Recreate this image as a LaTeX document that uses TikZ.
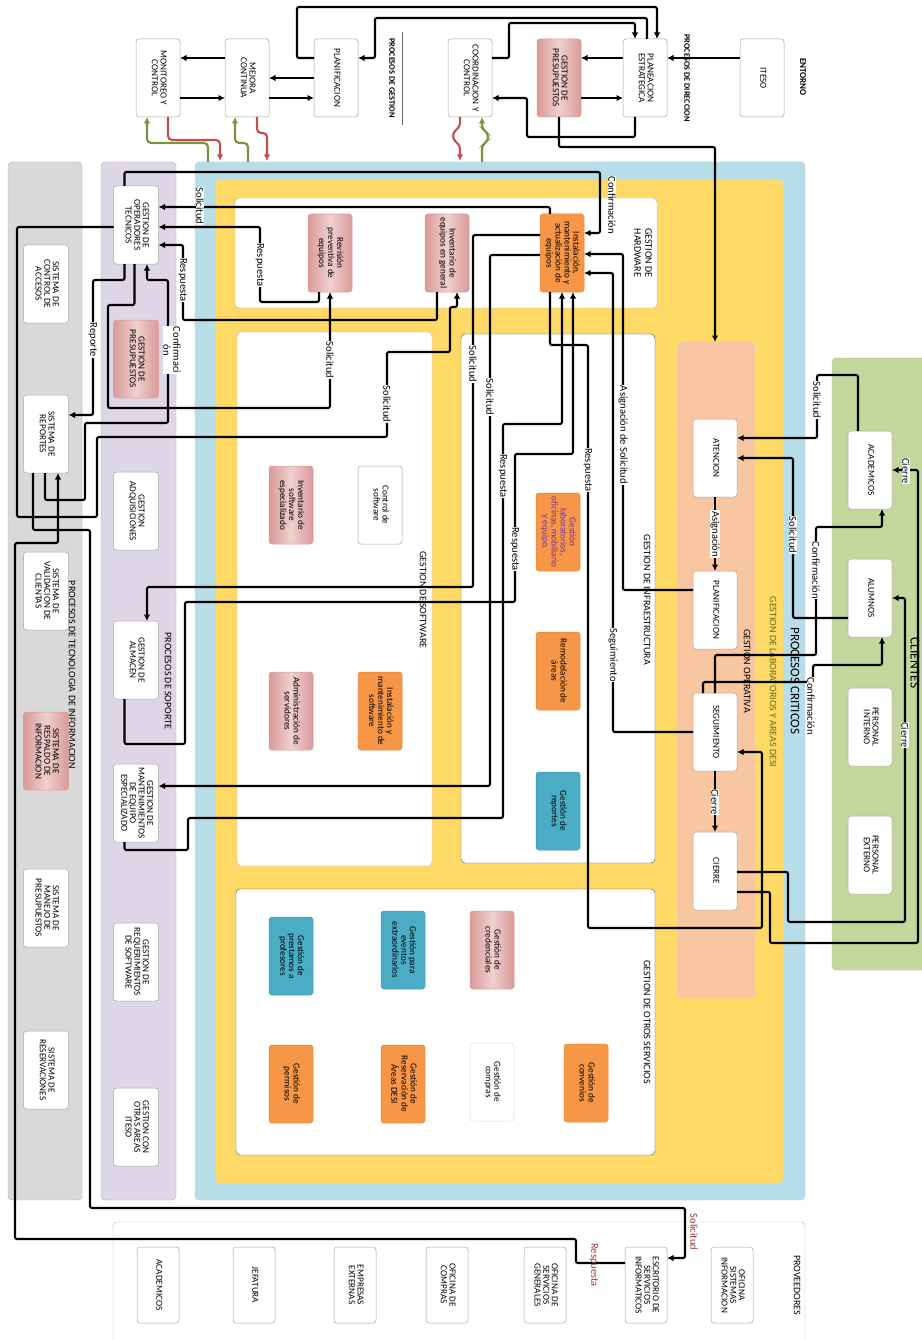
\documentclass[tikz,border=0pt]{standalone}
\usepackage{fontspec}
\setmainfont{Carlito}
\usepackage{graphicx}
\usetikzlibrary{arrows.meta, calc}
\definecolor{dsGray}{HTML}{D9D9D9}
\definecolor{dsLilac}{HTML}{DCD6E6}
\definecolor{dsBlue}{HTML}{B7DDE8}
\definecolor{dsYellow}{HTML}{FFD966}
\definecolor{dsSalmon}{HTML}{F8C6A0}
\definecolor{dsGreen}{HTML}{C3D69B}
\definecolor{dsOrange}{HTML}{F79646}
\definecolor{dsTeal}{HTML}{4BACC6}
\definecolor{dsPink}{HTML}{D99A98}
\definecolor{dsPinkLight}{HTML}{EFD0CF}
\definecolor{dsRed}{HTML}{C0504D}
\definecolor{dsLeaf}{HTML}{77933C}
\definecolor{dsOlive}{HTML}{6B6B1A}
\definecolor{dsWine}{HTML}{943634}
\definecolor{dsViolet}{HTML}{7030A0}
\newcommand{\rt}[1]{\rotatebox{-90}{\begin{tabular}{@{}c@{}}#1\end{tabular}}}
\tikzset{
  box/.style       = {draw=black!35, line width=0.5pt, fill=white, rounded corners=3pt,
                      minimum width=44pt, minimum height=78pt, inner sep=1pt, outer sep=0pt,
                      font=\fontsize{9.2}{8.6}\selectfont},
  pinkbox/.style   = {box, draw=dsPink, left color=dsPink, right color=dsPink, middle color=dsPinkLight},
  orangebox/.style = {box, draw=dsOrange!90!black, fill=dsOrange},
  tealbox/.style   = {box, draw=dsTeal!90!black, fill=dsTeal},
  flow/.style      = {-{Latex[length=6.5pt,width=6.5pt]}, line width=2.1pt, rounded corners=2pt},
  redflow/.style   = {flow, dsRed, rounded corners=4pt},
  greenflow/.style = {flow, dsLeaf, rounded corners=4pt},
  lbl/.style       = {rotate=-90, fill=white, inner sep=0.6pt, font=\fontsize{10.5}{10}\selectfont},
  panel/.style     = {rounded corners=4pt},
  plbl/.style      = {rotate=-90, inner sep=0pt, font=\fontsize{10}{11}\selectfont},
  hlbl/.style      = {rotate=-90, inner sep=0pt, font=\bfseries\fontsize{8.3}{9}\selectfont},
}
\begin{document}
\begin{tikzpicture}[x=1pt, y=-1pt]
  \useasboundingbox (0,0) rectangle (921,1340);
  \fill[white] (0,0) rectangle (921,1340);
  % panels
  \filldraw[panel, fill=dsGray, draw=black!30] (8,162) rectangle (82,1200);
  \filldraw[panel, fill=dsLilac, draw=black!30] (101,162) rectangle (176,1200);
  \filldraw[panel, fill=dsBlue, draw=black!20] (195,162) rectangle (805,1200);
  \fill[panel, dsYellow] (215,180) rectangle (783,1183);
  \filldraw[panel, fill=white, draw=black!30] (235,198) rectangle (657,308);
  \filldraw[panel, fill=white, draw=black!30] (237,332) rectangle (432,866);
  \filldraw[panel, fill=white, draw=black!70] (461,334) rectangle (655,863);
  \filldraw[panel, fill=white, draw=black!70] (236,889) rectangle (655,1155);
  \filldraw[panel, fill=dsSalmon, draw=black!15] (677,342) rectangle (755,998);
  \filldraw[panel, fill=dsGreen, draw=black!30] (832,358) rectangle (940,970);
  \draw[panel, black!30] (113,1222) rectangle (805,1360);
  \draw[black!60, line width=0.8pt] (402,32) -- (402,125);

  % panel titles
  \node[hlbl] (tGest) at (392,78) {PROCESOS DE GESTION};
  \node[hlbl] (tDir) at (687,78) {PROCESOS DE DIRECCION};
  \node[hlbl, font=\bfseries\fontsize{9}{10}\selectfont] (tEnt) at (803,77) {ENTORNO};
  \node[plbl] (tTec) at (72,675) {PROCESOS DE TECNOLOGIA DE INFORMACION};
  \node[plbl] (tSop) at (168,681) {PROCESOS DE SOPORTE};
  \node[plbl, font=\fontsize{13}{14}\selectfont] (tCrit) at (795,681) {PROCESOS CRITICOS};
  \node[plbl, dsOlive] (tLab) at (773,682) {GESTION DE LABORATORIOS Y AREAS DESI};
  \node[plbl] (tOper) at (747,671) {GESTION OPERATIVA};
  \node[plbl, align=center] (tHw) at (643,253) {GESTION DE\\HARDWARE};
  \node[plbl] (tSw) at (423,600) {GESTION DE SOFTWARE};
  \node[plbl] (tInf) at (647,600) {GESTION DE INFRAESTRUCTURA};
  \node[plbl] (tOtr) at (647,1022) {GESTION DE OTROS SERVICIOS};
  \node[plbl, font=\fontsize{13.5}{14}\selectfont] (tCli) at (915,663) {CLIENTES};
  \node[plbl] (tProv) at (797,1285) {PROVEEDORES};

  % management and direction
  \node[box] (monit) at (158,78) {\rt{MONITOREO Y\\CONTROL}};
  \node[box] (mejora) at (247,78) {\rt{MEJORA\\CONTINUA}};
  \node[box] (planif) at (336,78) {\rt{PLANIFICACION}};
  \node[box] (coord) at (470,78) {\rt{COORDINACION Y\\CONTROL}};
  \node[pinkbox] (presupG) at (559,78) {\rt{GESTION DE\\PRESUPUESTOS}};
  \node[box] (planea) at (645,78) {\rt{PLANEACION\\ESTRATEGICA}};
  \node[box] (iteso) at (762,78) {\rt{ITESO}};

  % information technology
  \node[box, minimum width=45pt] (sAcc) at (46,284) {\rt{SISTEMA DE\\CONTROL DE\\ACCESOS}};
  \node[box, minimum width=45pt] (sRep) at (46,434) {\rt{SISTEMA DE\\REPORTES}};
  \node[box, minimum width=45pt] (sVal) at (46,591) {\rt{SISTEMA DE\\VALIDACION DE\\CLIENTAS}};
  \node[pinkbox, minimum width=45pt] (sResp) at (46,751) {\rt{SISTEMA DE\\RESPALDO DE\\INFORMACION}};
  \node[box, minimum width=45pt] (sMan) at (46,908) {\rt{SISTEMA DE\\MANEJO DE\\PRESUPUESTOS}};
  \node[box, minimum width=45pt] (sRes) at (46,1070) {\rt{SISTEMA DE\\RESERVACIONES}};

  % support
  \node[box, minimum width=45pt] (gOper) at (136,225) {\rt{GESTION DE\\OPERADORES\\TECNICOS}};
  \node[pinkbox, minimum width=45pt] (gPres) at (136,359) {\rt{GESTION DE\\PRESUPUESTOS}};
  \node[box, minimum width=45pt] (gAdq) at (136,511) {\rt{GESTION\\ADQUISICIONES}};
  \node[box, minimum width=45pt] (gAlm) at (136,660) {\rt{GESTION DE\\ALMACEN}};
  \node[box, minimum width=45pt] (gMant) at (136,803) {\rt{GESTION DE\\MANTENIMIENTOS\\DE EQUIPO\\ESPECIALIZADO}};
  \node[box, minimum width=45pt] (gReq) at (136,962) {\rt{GESTION DE\\REQUERIMIENTOS\\DE SOFTWARE}};
  \node[box, minimum width=45pt] (gOtr) at (136,1127) {\rt{GESTION CON\\OTRAS AREAS\\ITESO}};

  % hardware, software, infrastructure, other services
  \node[orangebox] (hInst) at (562,253) {\rt{Instalación,\\mantenimiento y\\actualización de\\equipos}};
  \node[pinkbox] (hInv) at (447,253) {\rt{Inventario de\\equipos en general}};
  \node[pinkbox] (hRev) at (330,253) {\rt{Revisión\\preventiva de\\equipos}};
  \node[pinkbox] (swInv) at (291,505) {\rt{Inventario de\\software\\especializado}};
  \node[box] (swCtl) at (380,505) {\rt{Control de\\software}};
  \node[pinkbox] (swAdm) at (291,711) {\rt{Administración de\\servidores}};
  \node[orangebox] (swIns) at (380,711) {\rt{Instalación y\\mantenimiento de\\software}};
  \node[orangebox, text=dsViolet] (iLab) at (558,532) {\rt{Gestión\\laboratorios,\\oficinas, mobiliario\\y equipo.}};
  \node[orangebox] (iRem) at (558,671) {\rt{Remodelación de\\áreas}};
  \node[tealbox] (iRep) at (558,811) {\rt{Gestión de\\reportes}};
  \node[tealbox] (oPre) at (291,956) {\rt{Gestión de\\prestamos a\\profesores}};
  \node[tealbox] (oEve) at (403,950) {\rt{Gestión para\\eventos\\extraordinarios}};
  \node[pinkbox] (oCre) at (492,950) {\rt{Gestión de\\credenciales}};
  \node[orangebox] (oPer) at (291,1084) {\rt{Gestión de\\permisos}};
  \node[orangebox] (oRsv) at (403,1084) {\rt{Gestión de\\Reservación de\\Áreas DESI}};
  \node[box, draw=black!15] (oCom) at (492,1082) {\rt{Gestión de\\compras}};
  \node[orangebox] (oCon) at (586,1083) {\rt{Gestión de\\convenios}};

  % operation
  \node[box] (atenc) at (715,458) {\rt{ATENCION}};
  \node[box] (planop) at (715,610) {\rt{PLANIFICACION}};
  \node[box] (segui) at (715,732) {\rt{SEGUIMIENTO}};
  \node[box] (cierre) at (715,871) {\rt{CIERRE}};

  % clients
  \node[box] (acad) at (870,470) {\rt{ACADEMICOS}};
  \node[box] (alum) at (870,598) {\rt{ALUMNOS}};
  \node[box] (pint) at (870,727) {\rt{PERSONAL\\INTERNO}};
  \node[box] (pext) at (870,855) {\rt{PERSONAL\\EXTERNO}};

  % providers
  \node[box, minimum width=42pt, minimum height=76pt] (pAca) at (158,1285) {\rt{ACADEMICOS}};
  \node[box, minimum width=42pt, minimum height=76pt] (pJef) at (254,1285) {\rt{JEFATURA}};
  \node[box, minimum width=42pt, minimum height=76pt] (pEmp) at (355,1285) {\rt{EMPRESAS\\EXTERNAS}};
  \node[box, minimum width=42pt, minimum height=76pt] (pCom) at (447,1285) {\rt{OFICINA DE\\COMPRAS}};
  \node[box, minimum width=42pt, minimum height=76pt] (pSer) at (545,1285) {\rt{OFICINA DE\\SERVICIOS\\GENERALES}};
  \node[box, minimum width=42pt, minimum height=76pt] (pEsc) at (646,1285) {\rt{ESCRITORIO DE\\SERVICIOS\\INFORMATICOS}};
  \node[box, minimum width=42pt, minimum height=76pt] (pOfi) at (732,1285) {\rt{OFICINA\\SISTEMAS\\INFORMACION}};

  % free ends on the critical panel
  \coordinate (opTop) at (715,342);
  \coordinate (critM1) at (208,162);
  \coordinate (critM2) at (248,162);
  \coordinate (critC) at (482,162);
  \coordinate (critR1) at (220,161);
  \coordinate (critR2) at (267,161);
  \coordinate (critR3) at (460,161);

  % top flows
  \draw[flow] ([yshift=-19pt]mejora.north west) -- ([yshift=-19pt]monit.north east);
  \draw[flow] ([yshift=-59pt]monit.north east) -- ([yshift=-59pt]mejora.north west);
  \draw[flow] ([yshift=-39pt]planif.north west) -- ([yshift=-39pt]mejora.north east);
  \draw[flow] ([yshift=-59pt]mejora.north east) -- ([yshift=-59pt]planif.north west);
  \draw[flow] ([yshift=-19pt]planif.north west) -- ++(-17,0) -- ++(0,-51) -| ([xshift=34pt]planea.north west);
  \draw[flow] ([xshift=24pt]planea.north west) |- (375,18) |- ([yshift=-19pt]planif.north east);
  \draw[flow] ([yshift=-19pt]coord.north east) -| (509,23) -| ([xshift=12pt]planea.north west);
  \draw[flow] ([yshift=-19pt]planea.north west) -- ([yshift=-19pt]presupG.north east);
  \draw[flow] ([yshift=-59pt]presupG.north east) -- ([yshift=-59pt]planea.north west);
  \draw[flow] ([yshift=-19pt]iteso.north west) -- ([yshift=-19pt]planea.north east);
  \draw[flow] ([xshift=12pt]planea.south west) |- (527,137) |- ([yshift=-59pt]coord.north east);
  \draw[flow] (presupG.south) |- (715,147) -- (opTop);
  \draw[greenflow] (critM1) |- (147,143) -- ([xshift=11pt]monit.south west);
  \draw[redflow] ([xshift=32pt]monit.south west) |- (220,140) -- (critR1);
  \draw[greenflow] (critM2) |- (235,143) -- ([xshift=10pt]mejora.south west);
  \draw[redflow] ([xshift=32pt]mejora.south west) |- (267,133) -- (critR2);
  \draw[redflow] ([xshift=12pt]coord.south west) -- ++(0,10) -- ++(-7,5) -- ++(0,8) -- ++(7,5) -- (critR3);
  \draw[greenflow] (critC) -- ++(0,-17) -- ++(6,-4) -- ++(0,-8) -- ++(-6,-4) -- ([xshift=34pt]coord.south west);

  % support and hardware flows
  \draw[flow] ([xshift=11pt]gOper.north west) |- (600,172) |- ([yshift=-19pt]hInst.north east);
  \draw[flow] ([xshift=10pt]hInst.north west) |- ([yshift=-21pt]gOper.north east);
  \draw[flow] ([xshift=11pt]hRev.south west) |- (260,302) |- ([yshift=-41pt]gOper.north east);
  \draw[flow] ([xshift=12pt]hInv.south west) |- (183,320) |- ([yshift=-59pt]gOper.north east);
  \draw[flow] ([xshift=11pt]gOper.south west) |- (93,280) |- ([yshift=-20pt]sRep.north east);
  \draw[flow] ([xshift=21pt]gOper.south west) |- (108,305) |- (330,408) -- ([xshift=22pt]hRev.south west);
  \draw[flow] ([xshift=21.5pt]sRep.south west) |- (85,500) |- (168,423) |- (147,280) -- ([xshift=33.5pt]gOper.south west);
  \draw[flow] ([yshift=-41pt]gOper.north west) -| (17,517) -| (97,437) -| (387,352) -| (450,307) -| ([xshift=32pt]hInv.south west);
  \draw[flow] ([xshift=9.5pt]sRep.south west) |- (90,530) |- (685,1208) |- ([yshift=-11pt]pEsc.north east);
  \draw[flow] ([yshift=-16pt]pEsc.north west) -| (576,1239) -| (15,543) -| ([xshift=34.5pt]sRep.south west);
  \draw[flow] ([yshift=-21pt]hInst.north west) -| (473,587) -| ([xshift=33.5pt]gAlm.north west);
  \draw[flow] ([yshift=-41pt]hInst.north west) -| (490,786) -- ([yshift=-22pt]gMant.north east);
  \draw[flow] ([xshift=11pt]gMant.south west) |- (188,850) |- (503,818) |- (562,424) -- ([xshift=22pt]hInst.south west);
  \draw[flow] ([xshift=11pt]gAlm.south west) |- (185,744) |- (515,602) |- (573,454) -- ([xshift=33pt]hInst.south west);

  % operation flows
  \draw[flow] ([xshift=10pt]hInst.south west) |- (588,345) |- (762,928) |- ([yshift=-59pt]segui.north east);
  \draw[flow] ([yshift=-19pt]planop.north west) -| (623,254) -- ([yshift=-40pt]hInst.north east);
  \draw[flow] ([yshift=-39pt]segui.north west) -| (613,273) -- ([yshift=-59pt]hInst.north east);
  \draw[flow] (atenc.south) -- (planop.north);
  \draw[flow] (segui.south) -- (cierre.north);
  \draw[flow] ([xshift=10pt]acad.north west) |- (817,375) |- ([yshift=-19pt]atenc.north east);
  \draw[flow] ([yshift=-59pt]alum.north west) -| (793,458) -- ([yshift=-39pt]atenc.north east);
  \draw[flow] ([xshift=22pt]segui.north west) |- (816,655) |- (882,527) -- ([xshift=34pt]acad.south west);
  \draw[flow] ([xshift=10pt]segui.north west) |- (813,682) |- (882,665) -- ([xshift=34pt]alum.south west);
  \draw[flow] ([yshift=-40pt]cierre.north east) -| (788,922) -| (905,598) -- ([yshift=-39pt]alum.north east);
  \draw[flow] ([yshift=-60pt]cierre.north east) -| (770,943) -| (918,470) -- ([yshift=-39pt]acad.north east);

  % connector labels
  \node[lbl] (lConf1) at (612,205) {Confirmación};
  \node[lbl] (lSol1) at (200,206) {Solicitud};
  \node[lbl] (lResp1) at (260,265) {Respuesta};
  \node[lbl] (lResp2) at (183,280) {Respuesta};
  \node[lbl] (lRep) at (93,340) {Reporte};
  \node[lbl] (lSol2) at (330,360) {Solicitud};
  \node[lbl, align=center] (lConf2) at (172,350) {Confirmaci\\ón};
  \node[lbl] (lSol3) at (387,404) {Solicitud};
  \node[lbl, fill=none, text=dsWine] (lSol4) at (694,1232) {Solicitud};
  \node[lbl, fill=none, text=dsWine] (lResp3) at (594,1265) {Respuesta};
  \node[lbl] (lSol5) at (473,364) {Solicitud};
  \node[lbl] (lSol6) at (490,397) {Solicitud};
  \node[lbl] (lResp4) at (503,476) {Respuesta};
  \node[lbl] (lResp5) at (515,549) {Respuesta};
  \node[lbl] (lResp6) at (588,470) {Respuesta};
  \node[lbl] (lAsig1) at (623,435) {Asignación de Solicitud};
  \node[lbl] (lSeg) at (613,655) {Seguimiento};
  \node[lbl] (lAsig2) at (715,534) {Asignación};
  \node[lbl] (lCie1) at (715,802) {Cierre};
  \node[lbl] (lSol7) at (817,400) {Solicitud};
  \node[lbl] (lSol8) at (793,535) {Solicitud};
  \node[lbl] (lConf3) at (816,570) {Confirmación};
  \node[lbl] (lConf4) at (811,706) {Confirmación};
  \node[lbl] (lCie2) at (905,735) {Cierre};
  \node[lbl] (lCie3) at (906,471) {Cierre};
\end{tikzpicture}
\end{document}
